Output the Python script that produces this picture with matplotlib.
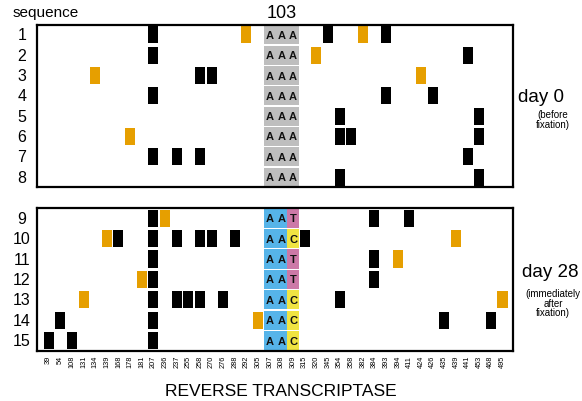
import matplotlib.pyplot as plt
from matplotlib.patches import Rectangle

plt.rcParams['font.family'] = ['Liberation Sans', 'DejaVu Sans']

# reverse transcriptase positions (columns)
positions = [39, 54, 108, 131, 134, 139, 168, 178, 181, 207, 236, 237, 255, 258,
             270, 276, 288, 292, 305, 307, 308, 309, 315, 320, 345, 354, 358, 382,
             384, 393, 394, 411, 424, 426, 435, 439, 441, 453, 468, 495]

# day 0 sequences 1-8
day0_black = [[207, 345, 393], [207, 441], [258, 270], [207, 393, 426],
              [354, 453], [354, 358, 453], [207, 237, 258, 441], [354, 453]]
day0_orange = [[292, 382], [320], [134, 424], [], [], [178], [], []]
day0_codon = ['AAA'] * 8

# day 28 sequences 9-15
day28_black = [[207, 384, 411], [168, 207, 237, 258, 270, 288, 315], [207, 384],
               [207, 384], [207, 237, 255, 258, 276, 354], [54, 207, 435, 468],
               [39, 108, 207]]
day28_orange = [[236], [139, 439], [394], [181], [131, 495], [305], []]
day28_codon = ['AAT', 'AAC', 'AAT', 'AAT', 'AAC', 'AAC', 'AAC']

codon_col = [307, 308, 309]

BLACK = '#000000'
ORANGE = '#E69F00'
GRAY = '#BEBEBE'
BLUE = '#56B4E9'
PINK = '#CC79A7'
YELLOW = '#F0E442'

fig = plt.figure(figsize=(5.82, 4.02), dpi=100)
ax1 = fig.add_axes([0.0636, 0.5316, 0.8178, 0.4044])
ax2 = fig.add_axes([0.0636, 0.125, 0.8178, 0.355])


def draw_panel(ax, first_row, blacks, oranges, codons, day28):
    n = len(blacks)
    for k in range(n):
        row = first_row + k
        for p in blacks[k]:
            c = positions.index(p)
            ax.add_patch(Rectangle((c - 0.43, row - 0.42), 0.86, 0.84, color=BLACK, lw=0))
        for p in oranges[k]:
            c = positions.index(p)
            ax.add_patch(Rectangle((c - 0.43, row - 0.42), 0.86, 0.84, color=ORANGE, lw=0))
        for j, (p, base) in enumerate(zip(codon_col, codons[k])):
            c = positions.index(p)
            if not day28:
                fc = GRAY
            elif j < 2:
                fc = BLUE
            else:
                fc = PINK if base == 'T' else YELLOW
            ax.add_patch(Rectangle((c - 0.5, row - 0.47), 1.0, 0.94, color=fc, lw=0))
            ax.text(c, row, base, ha='center', va='center', fontsize=8,
                    fontweight='bold', color='#111111')
        ax.text(-2.3, row, str(row), ha='center', va='center', fontsize=11.5,
                transform=ax.transData, clip_on=False)
    ax.set_xlim(-1.0, 39.9)
    ax.set_ylim(first_row + n - 0.5, first_row - 0.5)
    ax.set_yticks([])
    for s in ax.spines.values():
        s.set_linewidth(1.6)


draw_panel(ax1, 1, day0_black, day0_orange, day0_codon, False)
draw_panel(ax2, 9, day28_black, day28_orange, day28_codon, True)

ax1.set_xticks([])
ax2.set_xticks(range(len(positions)))
ax2.set_xticklabels([str(p) for p in positions], rotation=90, fontsize=5.3)
ax2.tick_params(axis='x', length=0, pad=3)

fig.text(0.021, 0.968, 'sequence', fontsize=11, ha='left', va='center')
ax1.text(positions.index(308), -0.08, '103', ha='center', va='center', fontsize=13,
         transform=ax1.transData, clip_on=False)

fig.text(0.93, 0.758, 'day 0', fontsize=13.5, ha='center', va='center')
fig.text(0.95, 0.702, '(before\nfixation)', fontsize=7, ha='center', va='center',
         linespacing=1.0)
fig.text(0.945, 0.323, 'day 28', fontsize=13.5, ha='center', va='center')
fig.text(0.95, 0.245, '(immediately\nafter\nfixation)', fontsize=7, ha='center',
         va='center', linespacing=0.95)

fig.text(0.482, 0.027, 'REVERSE TRANSCRIPTASE', fontsize=12.5, ha='center', va='center')

fig.savefig('out.png', dpi=100)
